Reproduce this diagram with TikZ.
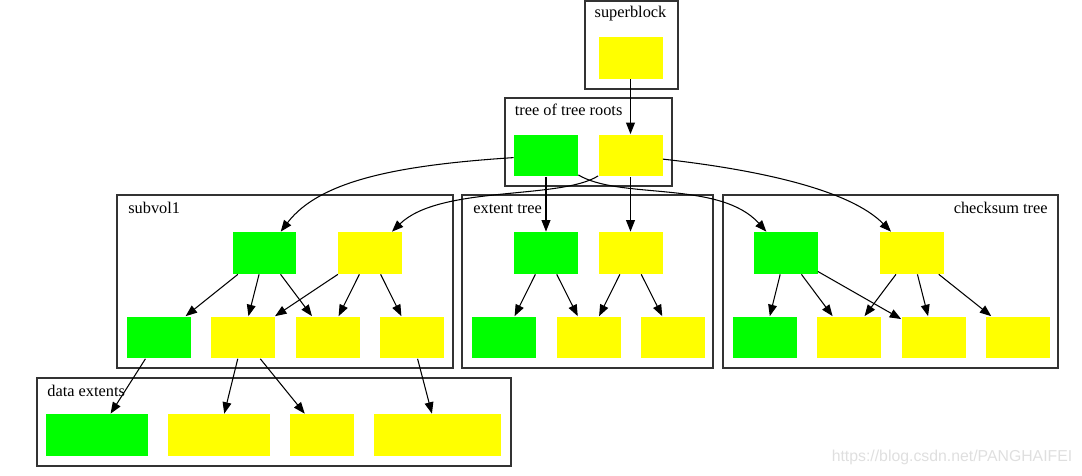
\documentclass[tikz,border=0pt]{standalone}
\usepackage{fontspec}
\setmainfont{Liberation Serif}
\newfontfamily\wmfont{Liberation Sans}
\usetikzlibrary{arrows.meta}
\definecolor{gvgreen}{HTML}{00FF00}
\definecolor{gvyellow}{HTML}{FFFF00}
\tikzset{
  leaf/.style={inner sep=0pt, minimum width=1.28cm, minimum height=0.84cm},
  gleaf/.style={leaf, fill=gvgreen},
  yleaf/.style={leaf, fill=gvyellow},
  cluster/.style={draw=black!80, line width=0.7pt},
  lbl/.style={font=\fontsize{9.3}{11}\selectfont, inner sep=0pt},
  edge/.style={-{Triangle[length=6.5pt,width=5pt]}, line width=0.6pt},
}
\begin{document}
\begin{tikzpicture}[x=0.02cm, y=-0.02cm]
\useasboundingbox (0,0) rectangle (1082,476);
% cluster frames
\draw[cluster] (585,1) rectangle (678,89);
\draw[cluster] (505,98) rectangle (672,186);
\draw[cluster] (117,195) rectangle (453,368);
\draw[cluster] (462,195) rectangle (713,368);
\draw[cluster] (723,195) rectangle (1058,368);
\draw[cluster] (37,378) rectangle (511,466);
% cluster labels
\node[lbl, anchor=base] (tsb) at (630.5,18) {superblock};
\node[lbl, anchor=base west] (troots) at (514.5,116) {tree of tree roots};
\node[lbl, anchor=base west] (tsub) at (128,214) {subvol1};
\node[lbl, anchor=base west] (text) at (473,214) {extent tree};
\node[lbl, anchor=base east] (tcsum) at (1048,214) {checksum tree};
\node[lbl, anchor=base west] (tdata) at (47,396) {data extents};
% superblock
\node[yleaf] (sb) at (630.5,58) {};
% tree of tree roots
\node[gleaf] (rg) at (546,155.5) {};
\node[yleaf] (ry) at (630.5,155.5) {};
% subvol1
\node[gleaf] (sg) at (264.5,253) {};
\node[yleaf] (sy) at (370,253) {};
\node[gleaf] (s1) at (159,337.5) {};
\node[yleaf] (s2) at (243,337.5) {};
\node[yleaf] (s3) at (328,337.5) {};
\node[yleaf] (s4) at (412,337.5) {};
% extent tree
\node[gleaf] (eg) at (546,253) {};
\node[yleaf] (ey) at (630.5,253) {};
\node[gleaf] (e1) at (504,337.5) {};
\node[yleaf] (e2) at (588.5,337.5) {};
\node[yleaf] (e3) at (673,337.5) {};
% checksum tree
\node[gleaf] (cg) at (785.5,253) {};
\node[yleaf] (cy) at (912,253) {};
\node[gleaf] (c1) at (764.5,337.5) {};
\node[yleaf] (c2) at (848.5,337.5) {};
\node[yleaf] (c3) at (933.5,337.5) {};
\node[yleaf] (c4) at (1018,337.5) {};
% data extents
\node[gleaf, minimum width=2.04cm] (d1) at (97,435) {};
\node[yleaf, minimum width=2.04cm] (d2) at (219,435) {};
\node[yleaf] (d3) at (322,435) {};
\node[yleaf, minimum width=2.54cm] (d4) at (437.5,435) {};
% edges from the roots
\draw[edge] (sb) -- (ry);
\draw[edge] (rg) -- (eg);
\draw[edge] (ry) -- (ey);
\draw[edge] (rg) .. controls (400,165) and (320,180) .. (sg);
\draw[edge] (ry) .. controls (560,200) and (440,185) .. (sy);
\draw[edge] (rg) .. controls (620,200) and (720,180) .. (cg);
\draw[edge] (ry) .. controls (760,170) and (850,190) .. (cy);
% subvol1 edges
\draw[edge] (sg) -- (s1);
\draw[edge] (sg) -- (s2);
\draw[edge] (sg) -- (s3);
\draw[edge] (sy) -- (s2);
\draw[edge] (sy) -- (s3);
\draw[edge] (sy) -- (s4);
% extent tree edges
\draw[edge] (eg) -- (e1);
\draw[edge] (eg) -- (e2);
\draw[edge] (ey) -- (e2);
\draw[edge] (ey) -- (e3);
% checksum tree edges
\draw[edge] (cg) -- (c1);
\draw[edge] (cg) -- (c2);
\draw[edge] (cg) -- (c3);
\draw[edge] (cy) -- (c2);
\draw[edge] (cy) -- (c3);
\draw[edge] (cy) -- (c4);
% into the data extents
\draw[edge] (s1) -- (d1);
\draw[edge] (s2) -- (d2);
\draw[edge] (s2) -- (d3);
\draw[edge] (s4) -- (d4);
% watermark
\node[font=\wmfont\fontsize{9}{10}\selectfont, text=gray!25, inner sep=0pt] (wm) at (952,457) {https://blog.csdn.net/PANGHAIFEI};
\end{tikzpicture}
\end{document}
